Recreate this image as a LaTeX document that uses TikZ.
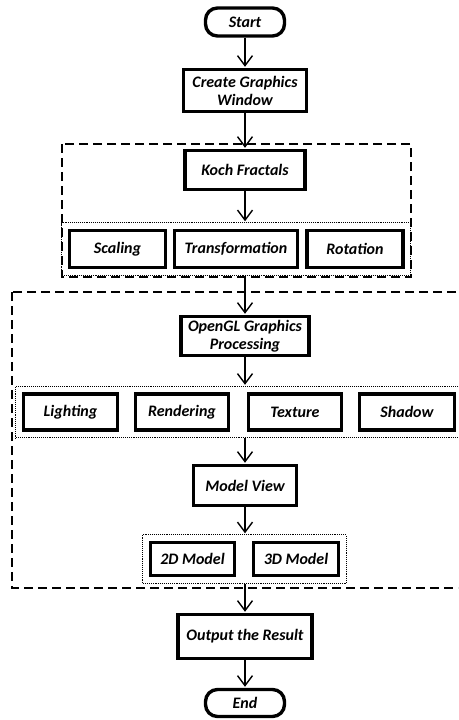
\documentclass[tikz,border=0pt]{standalone}
\usepackage{fontspec}
\setmainfont{Carlito}
\usetikzlibrary{arrows.meta,fit}

\tikzset{
  proc/.style={draw, line width=3.4pt, font=\bfseries\itshape\fontsize{16}{18}\selectfont, align=center, inner sep=0pt},
  term/.style={proc, rounded corners=12pt},
  flow/.style={-{Straight Barb[length=10pt,width=15pt]}, line width=1.4pt, shorten >=1pt},
  group/.style={draw, densely dotted, line width=1.1pt, inner sep=6pt},
  stage/.style={dash pattern=on 9pt off 5pt, line width=1.3pt},
}

\begin{document}
\begin{tikzpicture}[x=1pt, y=-1pt]
        \clip (0,0) rectangle (458,720);

        % main column
        \node[term, minimum width=79pt, minimum height=28pt] (start) at (245,22) {Start};
        \node[proc, minimum width=123pt, minimum height=42pt] (create) at (245,90.5) {Create Graphics\\Window};
        \node[proc, minimum width=120pt, minimum height=39pt] (koch) at (245,170) {Koch Fractals};

        \node[proc, minimum width=96pt, minimum height=37pt] (scal) at (117.5,249) {Scaling};
        \node[proc, minimum width=123pt, minimum height=37pt] (trans) at (236,249) {Transformation};
        \node[proc, minimum width=96pt, minimum height=37pt] (rot) at (355,249) {Rotation};
        \node[group, fit=(scal)(trans)(rot)] (grp1) {};

        \node[proc, minimum width=128pt, minimum height=39pt] (opengl) at (245,336) {OpenGL Graphics\\Processing};

        \node[proc, minimum width=94pt, minimum height=36pt] (light) at (70.5,412) {Lighting};
        \node[proc, minimum width=93pt, minimum height=36pt] (rend) at (182,412) {Rendering};
        \node[proc, minimum width=93pt, minimum height=36pt] (tex) at (295,412) {Texture};
        \node[proc, minimum width=95pt, minimum height=36pt] (shadow) at (407,412) {Shadow};
        \node[group, fit=(light)(rend)(tex)(shadow)] (grp2) {};

        \node[proc, minimum width=103pt, minimum height=40pt] (mview) at (245,485.5) {Model View};

        \node[proc, minimum width=84pt, minimum height=33pt] (m2d) at (192.5,559) {2D Model};
        \node[proc, minimum width=85pt, minimum height=33pt] (m3d) at (296,559) {3D Model};
        \node[group, fit=(m2d)(m3d)] (grp3) {};

        \node[proc, minimum width=134pt, minimum height=44pt] (output) at (245,636.5) {Output the Result};
        \node[term, minimum width=79pt, minimum height=27pt] (end) at (245,703) {End};

        % dashed stages
        \draw[stage] (62,144) rectangle (411,277);
        \draw[stage] (12,292) rectangle (470,588);

        % arrows
        \draw[flow] (start) -- (create);
        \draw[flow] (create) -- (koch);
        \draw[flow] (koch) -- (koch |- grp1.north);
        \draw[flow] (grp1.south -| koch) -- (opengl);
        \draw[flow] (opengl) -- (opengl |- grp2.north);
        \draw[flow] (grp2.south -| opengl) -- (mview);
        \draw[flow] (mview) -- (mview |- grp3.north);
        \draw[flow] (grp3.south -| mview) -- (output);
        \draw[flow] (output) -- (end);
\end{tikzpicture}
\end{document}
